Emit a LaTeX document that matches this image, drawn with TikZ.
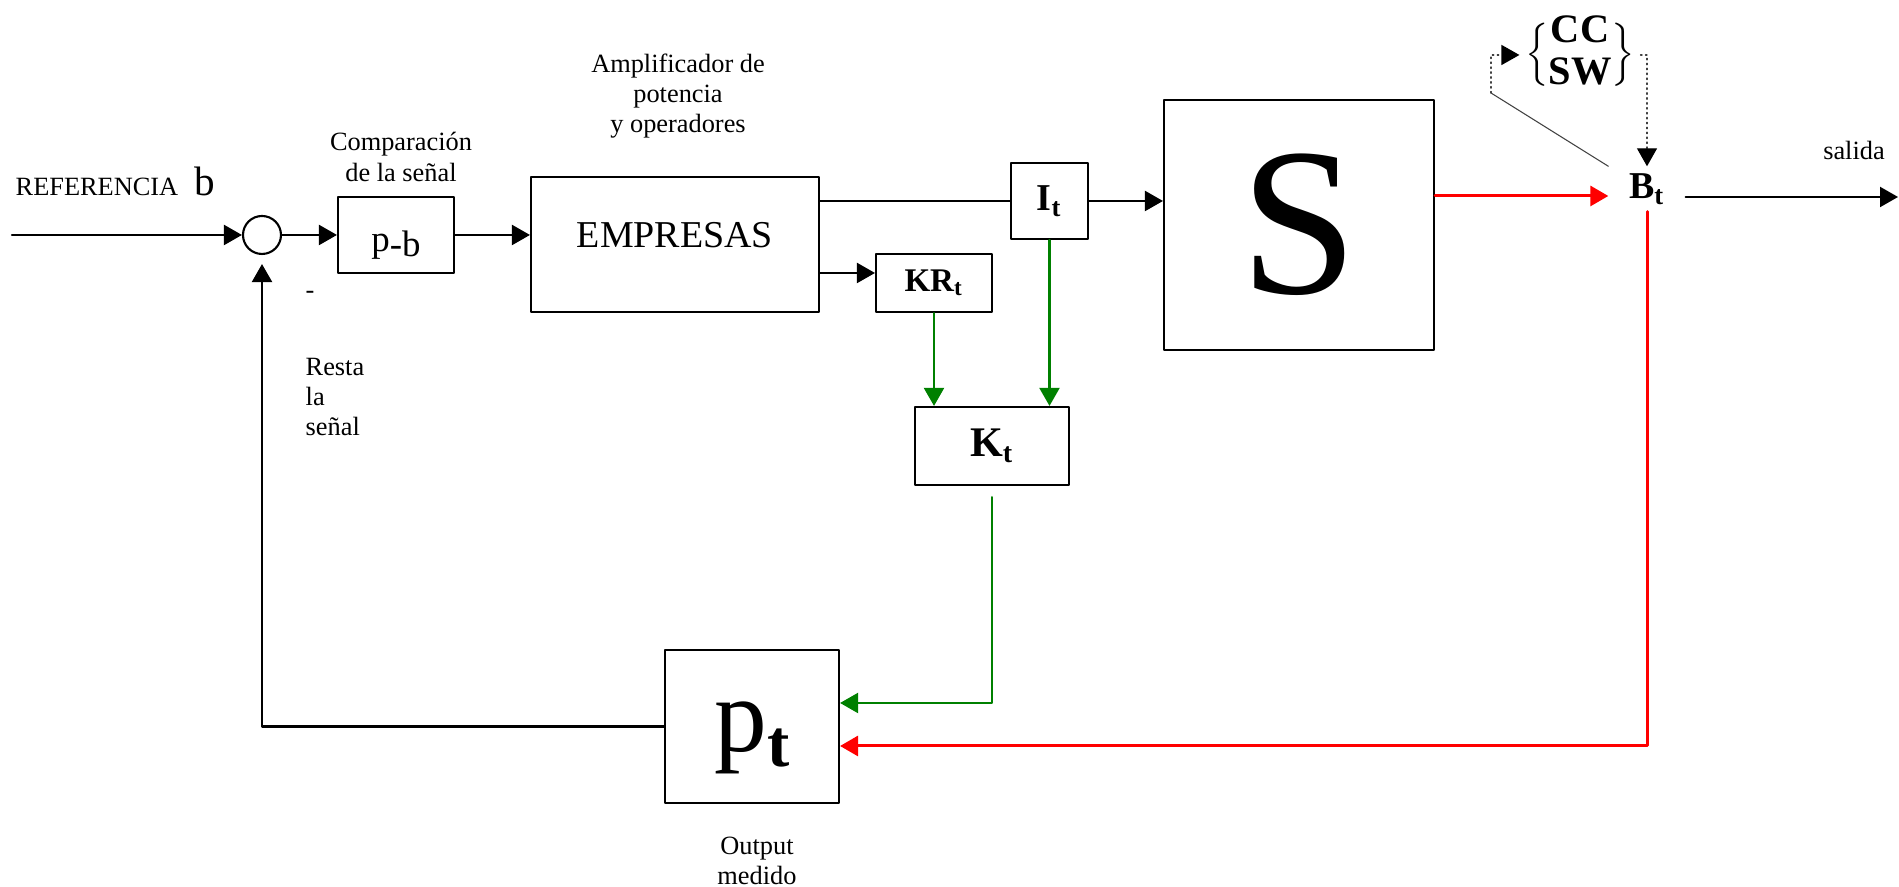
\documentclass[tikz,border=0pt]{standalone}
\usepackage{fontspec}
\setmainfont{Liberation Serif}
\usetikzlibrary{arrows.meta,positioning}

\definecolor{flowgreen}{RGB}{0,128,0}

\begin{document}
\begin{tikzpicture}[line cap=round,line join=round,
  box/.style={draw,line width=0.6pt,inner sep=0pt},
  lbl/.style={font=\fontsize{7.5}{8.6}\selectfont,inner sep=0pt,align=center},
  wire/.style={line width=0.6pt},
  flow/.style={line width=0.6pt,-{Triangle[length=1.8mm,width=2mm]}},
  gflow/.style={flow,flowgreen},
  rflow/.style={line width=0.85pt,red,-{Triangle[length=1.8mm,width=2mm]}},
  dotflow/.style={line width=0.4pt,black!75,densely dotted,-{Triangle[length=1.8mm,width=2mm,color=black]}}]
  \useasboundingbox (0,0) rectangle (18.99,8.87);

  \node[box,circle,minimum size=0.38cm] (sum) at (2.62,6.52) {};
  \node[box,minimum width=1.16cm,minimum height=0.76cm,text height=0.5cm,text depth=0.06cm,
        font=\fontsize{10.5}{12}\selectfont] (pb) at (3.96,6.52) {\raisebox{1.6pt}{p}-b};
  \node[box,minimum width=2.88cm,minimum height=1.35cm,text height=0.25cm,text depth=0.18cm,
        font=\fontsize{10.8}{12}\selectfont] (emp) at (6.75,6.425) {EMPRESAS};
  \node[box,minimum width=0.77cm,minimum height=0.76cm,
        font=\fontsize{10.8}{12}\selectfont\bfseries] (It) at (10.495,6.86) {I\textsubscript{t}};
  \node[box,minimum width=1.16cm,minimum height=0.58cm,
        font=\fontsize{9.4}{11}\selectfont\bfseries] (KR) at (9.34,6.04) {KR\textsubscript{t}};
  \node[box,minimum width=1.54cm,minimum height=0.78cm,
        font=\fontsize{12}{14}\selectfont\bfseries] (Kt) at (9.92,4.41) {K\textsubscript{t}};
  \node[box,minimum width=2.70cm,minimum height=2.50cm,
        font=\fontsize{60}{60}\selectfont] (S) at (12.99,6.62) {S};
  \node[box,minimum width=1.74cm,minimum height=1.53cm,text height=0.6cm,text depth=0.1cm]
        (pt) at (7.52,1.605)
        {{\fontsize{30}{30}\selectfont p}{\fontsize{19}{19}\selectfont\bfseries\raisebox{-4.3pt}{t}}};
  \node[inner xsep=2mm,inner ysep=0pt,minimum height=0.44cm,
        font=\fontsize{10.8}{12}\selectfont\bfseries] (Bt) at (16.47,6.98) {B\textsubscript{t}};
  \node[inner xsep=0.5mm,inner ysep=0pt,font=\fontsize{11.5}{12}\selectfont] (sel) at (15.80,8.32)
        {$\Big\{$\begin{tabular}{@{}c@{}}\textbf{CC}\\\textbf{SW}\end{tabular}$\Big\}$};

  \node[lbl,anchor=base west] (ref) at (0.15,6.91)
        {REFERENCIA\hspace{4.5pt}{\fontsize{11.7}{12}\selectfont b}};
  \node[lbl] (cmp) at (4.01,7.30) {Comparación\\de la señal};
  \node[lbl] (amp) at (6.78,7.91) {Amplificador de\\potencia\\y operadores};
  \node[lbl] (minus) at (3.10,5.92) {-};
  \node[lbl,align=left,anchor=west] (rst) at (3.05,4.90) {Resta\\la\\señal};
  \node[lbl] (med) at (7.57,0.26) {Output\\medido};
  \node[lbl,anchor=base] (sal) at (18.54,7.27) {salida};

  \coordinate (in) at (0.12,6.52);
  \coordinate (out) at (18.98,6.90);
  \coordinate (rin) at ([yshift=-0.7mm]Bt.west);
  \coordinate (sw) at (14.91,7.94);

  \draw[flow] (in) -- (sum.west);
  \draw[flow] (sum.east) -- (pb.west);
  \draw[flow] (pb.east) -- (pb.east -| emp.west);
  \draw[wire] (emp.east |- It.west) -- (It.west);
  \draw[flow] (It.east) -- (It.east -| S.west);
  \draw[flow] ([yshift=1mm]KR.west -| emp.east) -- ([yshift=1mm]KR.west);
  \draw[gflow] (KR.south) -- (KR.south |- Kt.north);
  \draw[gflow] (It.south) -- (It.south |- Kt.north);
  \draw[gflow] ([yshift=-1.1mm]Kt.south) |- ([yshift=2.35mm]pt.east);
  \draw[rflow] (S.east |- rin) -- (rin);
  \draw[rflow] (Bt.south) |- ([yshift=-1.95mm]pt.east);
  \draw[flow,shorten >=0.9mm] (pt.west) -| (sum.south);
  \draw[flow] (Bt.east |- out) -- (out);
  \draw[dotflow] (sw) |- (sel.west);
  \draw[dotflow] (sel.east) -| (Bt.north);
  \draw[line width=0.3pt,black!75] (sw) -- (Bt.north west);
\end{tikzpicture}
\end{document}
